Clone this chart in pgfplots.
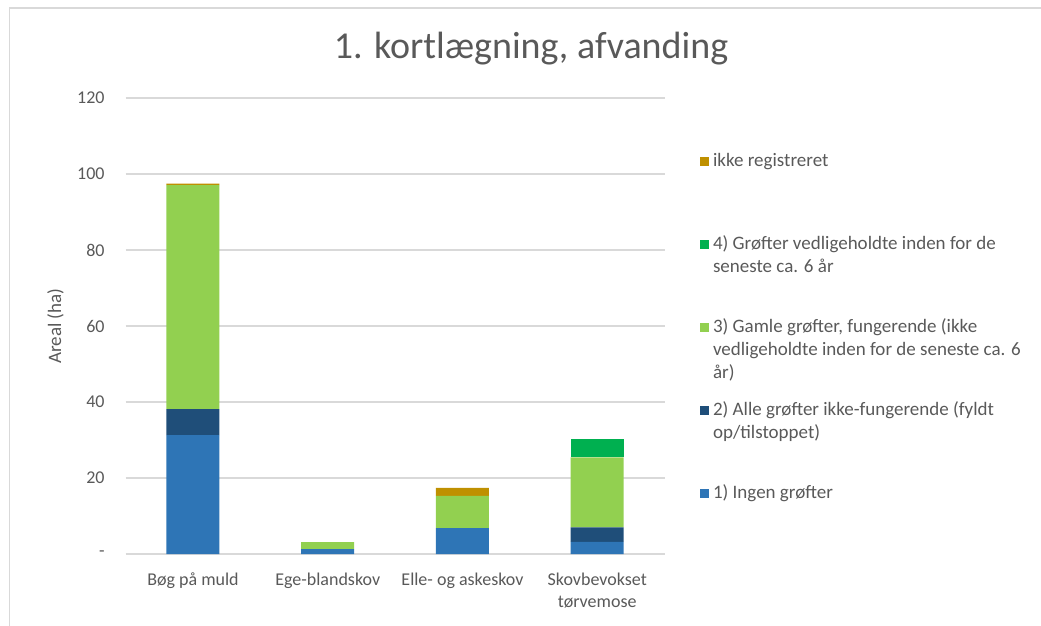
\documentclass[border=0pt]{standalone}
\usepackage{pgfplots}
\pgfplotsset{compat=1.18}
\usepackage{fontspec}
\setmainfont{Carlito}

\definecolor{txt}{HTML}{595959}
\definecolor{gridc}{HTML}{D9D9D9}
\definecolor{c1}{HTML}{2E75B6}
\definecolor{c2}{HTML}{1F4E79}
\definecolor{c3}{HTML}{92D050}
\definecolor{c4}{HTML}{00B050}
\definecolor{c5}{HTML}{BF9000}

\newcommand{\entry}[1]{\hspace*{2pt}\parbox[t]{170pt}{\raggedright #1}}

\begin{document}
\begin{tikzpicture}
% canvas: 1 px of the reference = 0.5pt, origin top left
\path[use as bounding box] (0,0) rectangle (520.5pt,-313pt);
\draw[gridc, line width=0.8pt] (4.75pt,-313pt) -- (4.75pt,-4pt) -- (520.5pt,-4pt);

\node[txt, font=\fontsize{19}{23}\selectfont, anchor=base] at (265.5pt,-29.5pt) {1. kortlægning, afvanding};

\begin{axis}[
    at={(62.8pt,-277pt)}, anchor=south west,
    scale only axis,
    width=269.5pt, height=228pt,
    ybar stacked,
    bar width=26.5pt,
    xmin=-0.5, xmax=3.5,
    ymin=0, ymax=120,
    enlargelimits=false,
    xtick={0,1,2,3},
    xticklabels={Bøg på muld, Ege-blandskov, Elle- og askeskov, {Skovbevokset\\tørvemose}},
    ytick={0,20,40,60,80,100,120},
    yticklabels={-,20,40,60,80,100,120},
    ymajorgrids,
    grid style={gridc, line width=0.6pt},
    axis line style={draw=none},
    major tick length=0pt,
    tick style={draw=none},
    ticklabel style={txt, font=\fontsize{9}{11}\selectfont},
    xticklabel style={align=center, yshift=-6pt},
    yticklabel style={anchor=east, xshift=-7pt},
    ylabel={Areal (ha)},
    ylabel style={txt, font=\fontsize{9.5}{11}\selectfont, at={(axis description cs:-0.130,0.5)}, anchor=center},
    reverse legend,
    legend style={at={(axis description cs:1.065,0.882)}, anchor=north west, draw=none, fill=none,
        font=\fontsize{9.5}{11.5}\selectfont, text=txt, inner sep=0pt, row sep=0pt,
        nodes={inner sep=0pt, text height=7pt, text depth=34.5pt},
        cells={anchor=base west}},
    legend image code/.code={\draw[#1,/tikz/.cd,draw=none] (0pt,0pt) rectangle (4.5pt,4.5pt);},
]
\addplot[fill=c1, draw=none] coordinates {(0,31.3) (1,1.3) (2,6.8) (3,3.2)};
\addplot[fill=c2, draw=none] coordinates {(0,6.8) (1,0) (2,0) (3,3.8)};
\addplot[fill=c3, draw=none] coordinates {(0,59.0) (1,1.8) (2,8.5) (3,18.4)};
\addplot[fill=c4, draw=none] coordinates {(0,0) (1,0) (2,0) (3,4.9)};
\addplot[fill=c5, draw=none] coordinates {(0,0.4) (1,0) (2,2.1) (3,0)};
\legend{
  \entry{1) Ingen grøfter},
  \entry{2) Alle grøfter ikke-fungerende (fyldt\\op/tilstoppet)},
  \entry{3) Gamle grøfter, fungerende (ikke\\vedligeholdte inden for de seneste ca. 6\\år)},
  \entry{4) Grøfter vedligeholdte inden for de\\seneste ca. 6 år},
  \entry{ikke registreret}
}
\end{axis}
\end{tikzpicture}
\end{document}
